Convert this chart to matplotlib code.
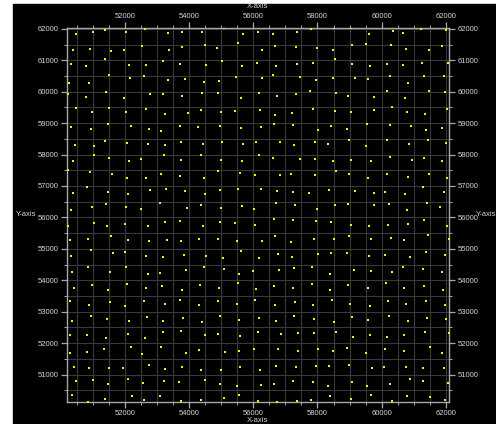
import numpy as np
import matplotlib
matplotlib.use("Agg")
import matplotlib.pyplot as plt
from matplotlib.patches import Rectangle
from matplotlib.ticker import MultipleLocator

# ── point data (top to bottom) ─────────────────────────────────────────────
# band 1: y ~ 62000 .. 58200
band1_x = [
    50460, 51010, 51390, 52030, 52620, 53330, 53780, 50390, 50910, 51570, 51970, 52520, 53370, 53790,
    51370, 53180, 50320, 50790, 52120, 52660, 53700, 51490, 52150, 52580, 53330, 53880, 50240, 50870,
    50210, 50790, 51400, 51980, 52780, 53170, 53780, 50460, 51510, 50980, 52020, 52660, 53230, 53950,
    50320, 50940, 51470, 52170, 52750, 53120, 53720, 50440, 51040, 51370, 52050, 52700, 53250, 53730,
    54390, 55070, 55690, 56150, 56620, 57370, 57800, 54480, 54880, 55530, 56270, 56690, 57340, 57980,
    55010, 54510, 55660, 56120, 56700, 57370, 57870, 55470, 56270, 56620, 57450, 57940, 54460, 54940,
    54410, 54890, 55600, 56170, 56750, 57340, 57780, 54360, 54990, 55440, 56200, 56660, 57200, 57850,
    54270, 54960, 55630, 56240, 56650, 57250, 58010, 54430, 55030, 55670, 56070, 56820, 57270, 57920,
    58510, 59060, 59610, 60360, 60660, 61240, 62010, 59090, 59500, 60290, 60760, 61470, 61890, 58480,
    58560, 59090, 59630, 60160, 60680, 61270, 62070, 58480, 59160, 59580, 60260, 60830, 61310, 61940,
    58580, 58950, 59760, 60160, 60720, 61490, 61970, 58540, 59030, 59760, 60310, 60790, 61360, 62040,
    58430, 58910, 59540, 60270, 60920, 61390, 61890, 58330, 58970, 59510, 60180, 60840, 61450, 62020,
]
band1_y = [
    61820, 61910, 61950, 61890, 61980, 61870, 61910, 61340, 61370, 61290, 61340, 61440, 61330, 61420,
    61040, 60970, 60880, 60830, 60850, 60850, 60880, 60520, 60450, 60490, 60380, 60400, 60270, 60280,
    59930, 59840, 59990, 59790, 59910, 59910, 59860, 59490, 59490, 59340, 59360, 59440, 59300, 59320,
    58870, 58820, 58960, 58900, 58800, 58760, 58910, 58290, 58260, 58430, 58360, 58330, 58300, 58390,
    61910, 62020, 61850, 61910, 61820, 61890, 61980, 61490, 61400, 61540, 61310, 61460, 61420, 61400,
    60990, 60850, 60830, 60900, 60810, 60880, 60900, 60460, 60430, 60530, 60480, 60370, 60310, 60330,
    59960, 59970, 59800, 59960, 59860, 59930, 60010, 59420, 59340, 59390, 59420, 59270, 59320, 59440,
    58870, 58920, 58860, 58870, 58960, 58950, 58770, 58340, 58400, 58320, 58410, 58390, 58300, 58410,
    62025, 62010, 61850, 61930, 61870, 62000, 61950, 61490, 61510, 61470, 61370, 61310, 61460, 61310,
    61050, 60880, 60830, 60880, 60850, 60900, 60920, 60450, 60420, 60400, 60490, 60280, 60510, 60510,
    59970, 59870, 59830, 60010, 59810, 60020, 59990, 59390, 59340, 59420, 59500, 59340, 59300, 59460,
    58900, 58800, 58980, 58940, 58920, 58770, 58860, 58320, 58450, 58270, 58450, 58320, 58460, 58360,
]

# band 2: y ~ 58000 .. 54200
band2_x = [
    50370, 51020, 51490, 52120, 52510, 53210, 53730, 50210, 50900, 51590, 52050, 52650, 53130, 53700,
    50390, 50820, 51480, 52090, 52780, 53280, 53860, 50330, 50970, 51410, 52020, 52510, 53100, 53930,
    50230, 51040, 51450, 52000, 52700, 53240, 53720, 50280, 50830, 51550, 52090, 52760, 53310, 53730,
    50950, 50320, 51630, 52000, 52650, 53180, 53830, 50350, 50850, 51520, 52030, 52710, 53100, 53900,
    54380, 54980, 55640, 56170, 56620, 57450, 57920, 54890, 54460, 55590, 56040, 56840, 57180, 57920,
    54480, 54960, 55510, 56240, 56750, 57250, 57750, 54360, 54990, 55660, 56020, 56720, 57300, 58000,
    54430, 54960, 55440, 56060, 56650, 57250, 57940, 54290, 54910, 55490, 56270, 56690, 57180, 57890,
    54510, 55060, 55620, 56170, 56770, 57220, 58020, 54450, 55090, 55550, 55990, 56790, 57270, 57840,
    58480, 59030, 59680, 60260, 60940, 61310, 61880, 58580, 58980, 59590, 60160, 60830, 61470, 62040,
    58350, 59160, 59750, 60090, 60730, 61290, 61950, 58540, 58950, 59760, 60230, 60800, 61420, 61830,
    58430, 59030, 59610, 60210, 60810, 61330, 62040, 58510, 58970, 59660, 60300, 60710, 61440, 62090,
    58420, 58910, 59620, 60110, 60870, 61390, 61970, 58400, 59130, 59680, 60310, 60660, 61290, 61880,
]
band2_y = [
    57790, 57970, 57890, 57810, 57870, 57990, 57840, 57500, 57430, 57370, 57270, 57260, 57380, 57320,
    56780, 56960, 56800, 56730, 56880, 56910, 56830, 56240, 56330, 56420, 56330, 56260, 56450, 56290,
    55740, 55820, 55740, 55790, 55720, 55840, 55900, 55290, 55300, 55410, 55270, 55240, 55270, 55240,
    54950, 54760, 54880, 54910, 54780, 54730, 54820, 54260, 54410, 54260, 54420, 54210, 54230, 54320,
    57970, 57840, 57780, 57970, 57890, 57860, 57850, 57480, 57270, 57420, 57340, 57350, 57390, 57340,
    56740, 56880, 56900, 56900, 56830, 56800, 56780, 56380, 56310, 56360, 56280, 56470, 56380, 56260,
    55720, 55860, 55820, 55770, 55940, 55920, 55900, 55300, 55320, 55240, 55250, 55400, 55220, 55310,
    54760, 54700, 54930, 54720, 54850, 54730, 54850, 54410, 54360, 54210, 54310, 54320, 54380, 54420,
    57810, 57840, 57810, 57910, 57840, 57890, 57780, 57480, 57380, 57270, 57370, 57300, 57380, 57270,
    56880, 56840, 56790, 56820, 56750, 56970, 56810, 56390, 56440, 56380, 56440, 56240, 56460, 56320,
    55860, 55770, 55720, 55750, 55790, 55910, 55730, 55320, 55410, 55300, 55360, 55270, 55430, 55330,
    54860, 54880, 54780, 54800, 54750, 54890, 54800, 54210, 54340, 54290, 54260, 54420, 54350, 54260,
]

# band 3: y ~ 53900 .. 52700 (hard to read, estimated)
band3_x = [
    50420, 50980, 51460, 52050, 52640, 53150, 53760, 54350, 54930, 55520, 56080, 56650, 57230, 57820,
    58390, 58960, 59560, 60150, 60700, 61310, 61900,
    50280, 50870, 51520, 52010, 52590, 53230, 53700, 54300, 54900, 55480, 56050, 56690, 57300, 57850,
    58440, 59020, 59640, 60200, 60760, 61380, 61990,
    50360, 50930, 51430, 52120, 52680, 53170, 53800, 54400, 54950, 55560, 56170, 56720, 57280, 57900,
    58500, 59080, 59590, 60240, 60820, 61420, 62020,
]
band3_y = [
    53760, 53850, 53700, 53880, 53740, 53820, 53690, 53860, 53770, 53900, 53720, 53830, 53760, 53880,
    53700, 53840, 53770, 53900, 53740, 53810, 53700,
    53350, 53220, 53300, 53180, 53330, 53260, 53370, 53200, 53330, 53240, 53360, 53210, 53300, 53230,
    53380, 53260, 53180, 53330, 53250, 53340, 53220,
    52720, 52850, 52760, 52700, 52830, 52720, 52800, 52690, 52870, 52740, 52810, 52700, 52860, 52760,
    52690, 52820, 52740, 52880, 52720, 52790, 52760,
]

# band 4: y ~ 52400 .. 50130
band4_x = [
    50270, 50800, 51410, 52080, 52630, 53190, 53750, 54480, 54910, 55580,
    50290, 50800, 51350, 52190, 52530, 53130, 53890, 54310, 55110, 55540,
    50400, 50890, 51500, 51950, 52760, 53260, 53790, 54360, 54990, 55580,
    50460, 50990, 51480, 52100, 52560, 53200, 53680, 54490, 54960, 55500,
    50350, 50850, 51380, 52210, 52600, 53090, 53750, 54370, 55080, 55550,
    56140, 56860, 57400, 57880, 58590, 59100, 59650, 60160, 60700, 61340, 62090,
    56020, 56780, 57390, 58010, 58490, 58910, 59510, 60110, 60690, 61500, 61880,
    56200, 56720, 57340, 57960, 58360, 58980, 59710, 60060, 60760, 61300, 61930,
    56240, 56650, 57230, 57870, 58330, 59080, 59550, 60270, 60890, 61290, 62060,
    56150, 56730, 57350, 57800, 58380, 59060, 59680, 60320, 60780, 61520, 61980,
]
band4_y = [
    52260, 52250, 52180, 52290, 52150, 52350, 52390, 52270, 52290, 52240,
    51700, 51720, 51830, 51870, 51670, 51880, 51700, 51780, 51720, 51750,
    51230, 51200, 51220, 51220, 51310, 51170, 51250, 51150, 51150, 51230,
    50790, 50840, 50700, 50860, 50730, 50810, 50760, 50840, 50690, 50650,
    50340, 50140, 50210, 50310, 50190, 50320, 50160, 50180, 50250, 50340,
    52350, 52290, 52310, 52320, 52350, 52200, 52250, 52190, 52270, 52350, 52310,
    51800, 51830, 51750, 51800, 51750, 51840, 51700, 51830, 51740, 51870, 51680,
    51140, 51290, 51230, 51260, 51290, 51310, 51200, 51250, 51230, 51200, 51220,
    50660, 50690, 50800, 50770, 50640, 50770, 50630, 50710, 50870, 50790, 50730,
    50170, 50140, 50160, 50190, 50320, 50230, 50350, 50150, 50330, 50300, 50200,
]

x_ticks = [52000, 54000, 56000, 58000, 60000, 62000]
y_ticks = [51000, 52000, 53000, 54000, 55000, 56000, 57000, 58000, 59000, 60000, 61000, 62000]

TXT = "#d4d4d4"
FRAME = "#a8a8a8"
plt.rcParams["font.family"] = ["Liberation Sans", "DejaVu Sans"]

fig = plt.figure(figsize=(4.96, 4.24), dpi=100, facecolor="white")
# black panel, leaving a thin white strip on the left and top
fig.patches.append(Rectangle((13 / 496, 0), 1 - 13 / 496, 1 - 4 / 424,
                             transform=fig.transFigure, color="black", zorder=-5))

ax = fig.add_axes([67 / 496, 22 / 424, 382 / 496, 374 / 424])
ax.set_facecolor("black")

all_x = band1_x + band2_x + band3_x + band4_x
all_y = band1_y + band2_y + band3_y + band4_y
ax.plot(all_x, all_y, linestyle="none", marker="s", ms=2.0,
        color="#f4f400", mew=0, zorder=3)

ax.set_xlim(50190, 62100)
ax.set_ylim(50130, 62025)

ax.set_xticks(x_ticks)
ax.set_yticks(y_ticks)
ax.xaxis.set_minor_locator(MultipleLocator(500))
ax.yaxis.set_minor_locator(MultipleLocator(500))
ax.grid(which="both", color="#383838", linewidth=0.8, zorder=0)
ax.set_axisbelow(True)

ax.tick_params(which="both", top=True, right=True, labeltop=True, labelright=True,
               direction="out", colors=FRAME, labelcolor=TXT, labelsize=5.5)
ax.tick_params(which="major", length=4, width=0.9, pad=2)
ax.tick_params(which="minor", length=2, width=0.7)

for s in ax.spines.values():
    s.set_color(FRAME)
    s.set_linewidth(1.0)

fig.text(258 / 496, 1 - 6 / 424, "X-axis", color=TXT, fontsize=5.5, ha="center", va="center")
fig.text(258 / 496, 1 - 420 / 424, "X-axis", color=TXT, fontsize=5.5, ha="center", va="center")
fig.text(16 / 496, 1 - 215 / 424, "Y-axis", color=TXT, fontsize=5.5, ha="left", va="center")
fig.text(1.0, 1 - 214 / 424, "Y-axis", color=TXT, fontsize=5.5, ha="right", va="center")

fig.savefig("out.png", dpi=100, facecolor=fig.get_facecolor())
